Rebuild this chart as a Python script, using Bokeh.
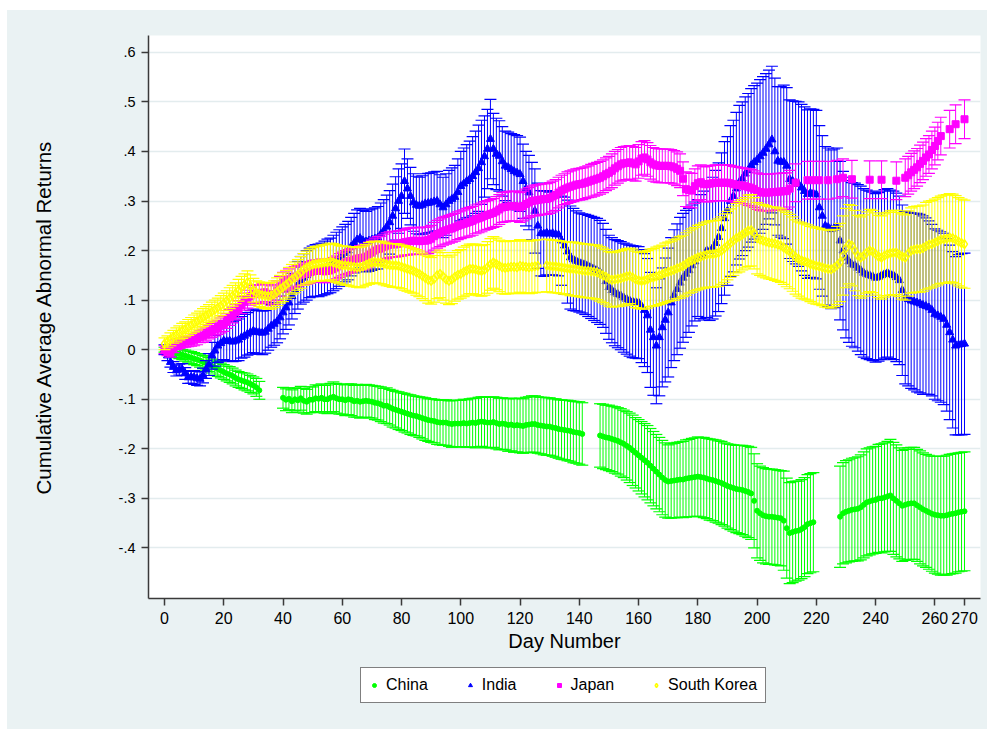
from bokeh.plotting import figure
from bokeh.models import ColumnDataSource, Range1d, FixedTicker, Legend, LegendItem, Spacer
from bokeh.layouts import column, row
from bokeh.embed import file_html
from bokeh.resources import INLINE

N = None
days = list(range(271))

china_mean = [
 0.000,-0.002,-0.004,-0.005,-0.007,-0.008,-0.010,-0.012,-0.014,-0.016,
 -0.018,-0.020,-0.022,-0.025,-0.027,-0.030,-0.033,-0.036,-0.039,-0.042,
 -0.045,-0.048,-0.050,-0.053,-0.057,-0.060,-0.062,-0.064,-0.066,-0.069,
 -0.072,-0.076,-0.082,N,N,N,N,N,N,N,
 -0.097,-0.101,-0.099,-0.104,-0.100,-0.102,-0.098,-0.103,-0.105,-0.101,
 -0.101,-0.098,-0.099,-0.097,-0.100,-0.100,-0.097,-0.095,-0.098,-0.100,
 -0.100,-0.102,-0.100,-0.101,-0.104,-0.103,-0.105,-0.104,-0.103,-0.104,
 -0.105,-0.107,-0.108,-0.110,-0.113,-0.113,-0.116,-0.119,-0.121,-0.123,
 -0.125,-0.127,-0.129,-0.131,-0.133,-0.134,-0.136,-0.138,-0.140,-0.142,
 -0.143,-0.144,-0.146,-0.147,-0.147,-0.147,-0.149,-0.150,-0.149,-0.149,
 -0.149,-0.148,-0.149,-0.148,-0.147,-0.148,-0.146,-0.145,-0.146,-0.147,
 -0.147,-0.146,-0.148,-0.150,-0.149,-0.150,-0.152,-0.151,-0.153,-0.152,
 -0.153,-0.154,-0.152,-0.151,-0.150,-0.150,-0.152,-0.153,-0.154,-0.155,
 -0.155,-0.157,-0.158,-0.160,-0.161,-0.162,-0.163,-0.164,-0.166,-0.167,
 -0.168,-0.170,N,N,N,N,N,-0.173,-0.175,-0.177,
 -0.178,-0.180,-0.182,-0.184,-0.187,-0.190,-0.194,-0.198,-0.203,-0.208,
 -0.213,-0.218,-0.223,-0.228,-0.234,-0.240,-0.246,-0.252,-0.258,-0.263,
 -0.266,-0.265,-0.264,-0.263,-0.262,-0.262,-0.260,-0.259,-0.258,-0.257,
 -0.256,-0.257,-0.258,-0.260,-0.262,-0.263,-0.265,-0.267,-0.269,-0.272,
 -0.275,-0.277,-0.279,-0.281,-0.282,-0.283,-0.285,-0.287,-0.290,-0.305,
 -0.325,-0.330,-0.334,-0.336,-0.337,-0.337,-0.338,-0.339,-0.340,-0.345,
 -0.360,-0.370,-0.368,-0.366,-0.365,-0.362,-0.358,-0.352,-0.350,-0.348,
 N,N,N,N,N,N,N,N,-0.337,-0.330,
 -0.327,-0.325,-0.323,-0.322,-0.321,-0.318,-0.313,-0.308,-0.306,-0.304,
 -0.303,-0.300,-0.300,-0.298,-0.296,-0.294,-0.300,-0.305,-0.310,-0.315,
 -0.313,-0.311,-0.310,-0.310,-0.314,-0.318,-0.322,-0.325,-0.328,-0.331,
 -0.333,-0.334,-0.335,-0.335,-0.334,-0.332,-0.331,-0.330,-0.328,-0.327,-0.326]

china_hw = [
 0.005,0.006,0.007,0.008,0.009,0.010,0.010,0.011,0.011,0.012,
 0.012,0.012,0.013,0.013,0.014,0.014,0.014,0.015,0.015,0.015,
 0.015,0.015,0.016,0.016,0.016,0.016,0.016,0.017,0.017,0.017,
 0.017,0.018,0.018,N,N,N,N,N,N,N,
 0.021,0.022,0.022,0.023,0.023,0.024,0.024,0.025,0.025,0.026,
 0.026,0.027,0.027,0.028,0.028,0.029,0.029,0.030,0.030,0.030,
 0.030,0.031,0.031,0.032,0.032,0.033,0.033,0.033,0.033,0.033,
 0.033,0.034,0.034,0.035,0.035,0.036,0.036,0.037,0.037,0.038,
 0.038,0.039,0.039,0.040,0.040,0.040,0.041,0.042,0.043,0.043,
 0.044,0.044,0.045,0.045,0.046,0.046,0.046,0.047,0.047,0.047,
 0.047,0.048,0.048,0.049,0.049,0.050,0.050,0.050,0.051,0.051,
 0.051,0.051,0.052,0.052,0.052,0.052,0.053,0.053,0.054,0.054,
 0.055,0.055,0.056,0.056,0.057,0.057,0.057,0.057,0.058,0.058,
 0.058,0.058,0.059,0.059,0.060,0.060,0.061,0.061,0.062,0.062,
 0.063,0.063,N,N,N,N,N,0.064,0.065,0.065,
 0.066,0.066,0.067,0.067,0.068,0.068,0.069,0.070,0.071,0.071,
 0.072,0.073,0.074,0.075,0.075,0.075,0.075,0.075,0.075,0.075,
 0.074,0.075,0.075,0.076,0.076,0.077,0.078,0.078,0.079,0.079,
 0.080,0.080,0.081,0.081,0.082,0.082,0.083,0.083,0.084,0.084,
 0.085,0.086,0.087,0.088,0.089,0.090,0.091,0.092,0.093,0.095,
 0.095,0.095,0.096,0.096,0.096,0.096,0.096,0.096,0.096,0.100,
 0.101,0.102,0.102,0.101,0.100,0.100,0.100,0.100,0.100,0.100,
 N,N,N,N,N,N,N,N,0.102,0.102,
 0.103,0.103,0.104,0.104,0.105,0.106,0.107,0.108,0.108,0.108,
 0.108,0.109,0.110,0.110,0.111,0.113,0.113,0.113,0.112,0.112,
 0.112,0.113,0.113,0.113,0.113,0.114,0.114,0.114,0.115,0.116,
 0.118,0.119,0.120,0.120,0.121,0.121,0.121,0.121,0.120,0.120,0.120]

india_mean = [
 0.000,-0.012,-0.025,-0.035,-0.042,-0.040,-0.040,-0.048,-0.056,-0.055,
 -0.056,-0.058,-0.059,-0.052,-0.040,-0.030,-0.012,-0.002,0.008,0.013,
 0.018,0.017,0.018,0.016,0.018,0.020,0.025,0.028,0.032,0.035,
 0.038,0.036,0.035,0.034,0.036,0.042,0.048,0.052,0.057,0.065,
 0.075,0.085,0.095,0.108,0.120,0.130,0.140,0.145,0.150,0.155,
 0.158,0.160,0.160,0.162,0.165,0.168,0.170,0.175,0.180,0.185,
 0.190,0.195,0.200,0.208,0.215,0.222,0.225,0.220,0.218,0.220,
 0.222,0.224,0.226,0.233,0.240,0.248,0.257,0.270,0.285,0.300,
 0.310,0.340,0.325,0.310,0.297,0.292,0.290,0.292,0.295,0.296,
 0.297,0.299,0.300,0.293,0.287,0.293,0.300,0.304,0.308,0.318,
 0.330,0.335,0.340,0.344,0.350,0.358,0.366,0.378,0.390,0.405,
 0.425,0.405,0.395,0.391,0.380,0.371,0.368,0.364,0.360,0.357,
 0.354,0.340,0.325,0.317,0.300,0.280,0.250,0.235,0.234,0.236,
 0.234,0.235,0.233,0.232,0.220,0.210,0.198,0.186,0.182,0.179,
 0.176,0.174,0.172,0.169,0.166,0.163,0.160,0.156,0.150,0.138,
 0.126,0.120,0.115,0.112,0.109,0.105,0.102,0.099,0.097,0.096,
 0.095,0.088,0.080,0.069,0.040,0.025,0.008,0.025,0.045,0.060,
 0.075,0.095,0.110,0.122,0.135,0.145,0.153,0.160,0.170,0.178,
 0.185,0.188,0.190,0.200,0.199,0.205,0.215,0.227,0.245,0.265,
 0.280,0.300,0.310,0.325,0.338,0.345,0.355,0.362,0.372,0.378,
 0.383,0.390,0.397,0.405,0.414,0.424,0.400,0.381,0.379,0.379,
 0.371,0.344,0.340,0.337,0.334,0.327,0.320,0.314,0.316,0.315,
 0.313,0.287,0.270,0.250,0.247,0.243,0.245,0.247,0.220,0.200,
 0.186,0.178,0.172,0.170,0.165,0.160,0.155,0.152,0.150,0.148,
 0.145,0.147,0.150,0.153,0.155,0.152,0.150,0.146,0.140,0.120,
 0.105,0.102,0.099,0.097,0.095,0.093,0.090,0.088,0.085,0.080,
 0.072,0.069,0.066,0.062,0.050,0.035,0.020,0.008,0.010,0.011,0.012]

india_hw = [
 0.010,0.010,0.010,0.011,0.011,0.011,0.012,0.012,0.012,0.013,
 0.014,0.014,0.014,0.015,0.018,0.022,0.027,0.031,0.034,0.036,
 0.038,0.039,0.040,0.040,0.041,0.042,0.042,0.043,0.043,0.044,
 0.044,0.044,0.044,0.044,0.043,0.043,0.043,0.043,0.043,0.043,
 0.043,0.044,0.045,0.046,0.047,0.048,0.048,0.049,0.050,0.050,
 0.051,0.052,0.053,0.053,0.054,0.055,0.055,0.056,0.057,0.057,
 0.058,0.058,0.059,0.059,0.060,0.060,0.060,0.061,0.061,0.062,
 0.062,0.062,0.063,0.063,0.063,0.064,0.064,0.064,0.064,0.065,
 0.065,0.065,0.060,0.058,0.058,0.058,0.058,0.059,0.060,0.060,
 0.060,0.060,0.060,0.060,0.061,0.062,0.062,0.063,0.064,0.067,
 0.070,0.072,0.074,0.077,0.080,0.083,0.087,0.085,0.082,0.080,
 0.080,0.072,0.072,0.071,0.070,0.070,0.071,0.072,0.074,0.075,
 0.075,0.075,0.075,0.075,0.078,0.085,0.086,0.086,0.086,0.085,
 0.084,0.084,0.083,0.083,0.090,0.098,0.104,0.104,0.103,0.101,
 0.100,0.100,0.101,0.102,0.103,0.104,0.105,0.105,0.105,0.105,
 0.105,0.106,0.107,0.108,0.109,0.110,0.111,0.112,0.113,0.113,
 0.113,0.114,0.114,0.115,0.116,0.117,0.117,0.118,0.120,0.125,
 0.130,0.131,0.132,0.132,0.132,0.130,0.128,0.125,0.122,0.120,
 0.118,0.125,0.130,0.135,0.140,0.143,0.147,0.150,0.152,0.155,
 0.150,0.152,0.153,0.154,0.155,0.155,0.155,0.155,0.155,0.155,
 0.155,0.155,0.154,0.152,0.150,0.148,0.148,0.150,0.152,0.155,
 0.158,0.160,0.162,0.164,0.166,0.168,0.170,0.170,0.170,0.170,
 0.170,0.165,0.162,0.160,0.160,0.160,0.160,0.160,0.160,0.160,
 0.162,0.163,0.165,0.166,0.168,0.170,0.170,0.170,0.170,0.170,
 0.170,0.170,0.170,0.170,0.170,0.170,0.170,0.170,0.170,0.172,
 0.174,0.175,0.177,0.178,0.180,0.180,0.180,0.178,0.175,0.173,
 0.172,0.172,0.172,0.173,0.174,0.176,0.178,0.180,0.182,0.183,0.183]

japan_mean = [
 0.000,-0.004,-0.006,0.003,0.010,0.012,0.014,0.016,0.017,0.018,
 0.020,0.022,0.026,0.028,0.031,0.035,0.039,0.042,0.045,0.049,
 0.052,0.058,0.065,0.070,0.076,0.082,0.090,0.097,0.102,0.108,
 0.112,0.113,0.112,0.115,0.116,0.112,0.109,0.112,0.119,0.128,
 0.136,0.139,0.142,0.145,0.147,0.149,0.151,0.153,0.154,0.156,
 0.158,0.159,0.159,0.160,0.158,0.159,0.160,0.163,0.166,0.170,
 0.173,0.176,0.178,0.180,0.182,0.184,0.185,0.186,0.188,0.192,
 0.196,0.200,0.203,0.204,0.207,0.210,0.212,0.213,0.213,0.214,
 0.215,0.217,0.218,0.219,0.220,0.220,0.219,0.220,0.220,0.221,
 0.224,0.229,0.233,0.236,0.239,0.241,0.243,0.245,0.247,0.250,
 0.252,0.254,0.256,0.258,0.260,0.263,0.265,0.267,0.270,0.272,
 0.274,0.276,0.279,0.283,0.287,0.288,0.289,0.290,0.290,0.289,
 0.287,0.290,0.294,0.297,0.300,0.301,0.302,0.303,0.304,0.304,
 0.306,0.309,0.312,0.317,0.321,0.324,0.327,0.329,0.331,0.333,
 0.334,0.335,0.337,0.339,0.341,0.343,0.345,0.347,0.350,0.354,
 0.357,0.361,0.366,0.370,0.374,0.376,0.377,0.378,0.376,0.374,
 0.380,0.386,0.388,0.384,0.378,0.374,0.372,0.371,0.371,0.371,
 0.371,0.370,0.368,0.365,0.361,0.345,0.324,0.322,0.321,0.330,
 0.336,0.338,0.334,0.334,0.335,0.336,0.337,0.337,0.337,0.337,
 0.337,0.336,0.334,0.333,0.332,0.331,0.330,0.328,0.327,0.324,
 0.320,0.318,0.317,0.317,0.317,0.318,0.318,0.319,0.319,0.320,
 0.320,0.325,N,0.337,N,N,N,0.342,N,0.342,
 N,0.342,N,N,0.342,N,N,0.344,N,0.347,
 N,N,0.344,N,N,N,N,N,0.343,N,
 N,N,0.343,N,N,N,N,0.341,N,N,
 0.347,0.352,0.358,0.363,0.368,0.375,0.381,0.388,0.394,0.403,
 0.411,0.421,0.431,N,N,0.445,N,0.455,N,N,0.465]

japan_hw = [
 0.008,0.008,0.009,0.009,0.010,0.010,0.010,0.011,0.011,0.011,
 0.012,0.012,0.012,0.013,0.013,0.013,0.014,0.014,0.014,0.015,
 0.015,0.015,0.016,0.016,0.016,0.017,0.017,0.017,0.018,0.018,
 0.018,0.018,0.019,0.019,0.019,0.019,0.020,0.020,0.020,0.020,
 0.020,0.020,0.021,0.021,0.021,0.021,0.021,0.022,0.022,0.022,
 0.022,0.022,0.022,0.023,0.023,0.023,0.023,0.023,0.023,0.024,
 0.024,0.024,0.024,0.024,0.024,0.024,0.025,0.025,0.025,0.025,
 0.025,0.025,0.025,0.025,0.026,0.026,0.026,0.026,0.026,0.026,
 0.026,0.026,0.027,0.027,0.027,0.027,0.027,0.027,0.027,0.027,
 0.027,0.028,0.028,0.028,0.028,0.028,0.028,0.028,0.028,0.028,
 0.028,0.028,0.029,0.029,0.029,0.029,0.029,0.029,0.029,0.029,
 0.029,0.029,0.030,0.030,0.030,0.030,0.030,0.030,0.030,0.030,
 0.030,0.030,0.030,0.030,0.030,0.031,0.031,0.031,0.031,0.031,
 0.031,0.031,0.031,0.031,0.031,0.031,0.032,0.032,0.032,0.032,
 0.032,0.032,0.032,0.032,0.033,0.033,0.033,0.033,0.033,0.033,
 0.033,0.034,0.034,0.034,0.034,0.034,0.034,0.034,0.034,0.034,
 0.034,0.034,0.034,0.034,0.034,0.034,0.034,0.034,0.034,0.034,
 0.034,0.034,0.034,0.034,0.034,0.034,0.035,0.035,0.035,0.035,
 0.035,0.035,0.035,0.036,0.036,0.036,0.036,0.036,0.036,0.036,
 0.036,0.036,0.036,0.036,0.036,0.036,0.036,0.037,0.037,0.037,
 0.037,0.037,0.037,0.037,0.037,0.037,0.037,0.037,0.037,0.037,
 0.037,0.037,N,0.038,N,N,N,0.038,N,0.038,
 N,0.038,N,N,0.038,N,N,0.038,N,0.038,
 N,N,0.038,N,N,N,N,N,0.038,N,
 N,N,0.038,N,N,N,N,0.038,N,N,
 0.038,0.038,0.038,0.038,0.038,0.038,0.038,0.038,0.038,0.038,
 0.038,0.038,0.038,N,N,0.038,N,0.039,N,N,0.039]

korea_mean = [
 0.012,0.016,0.021,0.026,0.030,0.034,0.038,0.041,0.045,0.049,
 0.053,0.057,0.061,0.065,0.069,0.073,0.077,0.081,0.085,0.089,
 0.094,0.099,0.104,0.109,0.114,0.120,0.126,0.131,0.136,0.128,
 0.120,0.115,0.112,0.110,0.109,0.108,0.109,0.112,0.117,0.122,
 0.126,0.131,0.136,0.142,0.146,0.151,0.156,0.162,0.166,0.169,
 0.172,0.173,0.174,0.175,0.176,0.176,0.178,0.176,0.174,0.172,
 0.170,0.170,0.169,0.168,0.167,0.166,0.166,0.168,0.171,0.174,
 0.176,0.177,0.176,0.176,0.174,0.172,0.171,0.170,0.170,0.169,
 0.167,0.165,0.163,0.161,0.159,0.156,0.153,0.149,0.145,0.141,
 0.139,0.143,0.150,0.153,0.148,0.142,0.139,0.142,0.147,0.151,
 0.153,0.157,0.160,0.163,0.163,0.162,0.160,0.159,0.161,0.166,
 0.172,0.176,0.173,0.169,0.166,0.165,0.166,0.167,0.167,0.166,
 0.169,0.168,0.167,0.166,0.167,0.168,0.169,N,N,0.170,
 0.169,0.168,0.168,0.167,0.166,0.165,0.164,0.163,0.163,0.162,
 0.161,0.160,0.159,0.159,0.158,0.157,0.156,0.153,0.150,0.147,
 0.143,0.141,0.142,0.143,0.144,0.146,0.148,0.149,0.146,0.142,
 0.140,0.139,0.140,0.142,0.145,0.146,0.148,0.150,0.152,0.155,
 0.157,0.159,0.161,0.164,0.166,0.169,0.173,0.177,0.180,0.183,
 0.186,0.188,0.190,0.192,0.193,0.193,0.194,0.196,0.200,0.205,
 0.210,0.215,0.220,0.225,0.228,0.232,0.236,0.240,0.241,0.235,
 0.225,0.222,0.220,0.218,0.216,0.215,0.214,0.212,0.210,0.206,
 0.202,0.198,0.193,0.187,0.183,0.180,0.178,0.176,0.173,0.171,
 0.169,0.168,0.166,0.164,0.163,0.162,0.165,0.170,0.176,0.190,
 0.205,0.213,0.210,0.200,0.190,0.186,0.190,0.196,0.200,0.198,
 0.193,0.188,0.186,0.190,0.193,0.195,0.196,0.196,0.192,0.188,
 0.186,0.194,0.200,0.202,0.203,0.203,0.205,0.209,0.212,0.213,
 0.216,0.219,0.222,0.223,0.224,0.226,0.225,0.222,0.218,0.215,0.213]

korea_hw = [
 0.012,0.012,0.013,0.013,0.014,0.014,0.015,0.015,0.016,0.016,
 0.017,0.017,0.017,0.018,0.018,0.018,0.019,0.019,0.019,0.020,
 0.020,0.020,0.021,0.021,0.021,0.022,0.022,0.022,0.023,0.023,
 0.024,0.024,0.025,0.025,0.026,0.026,0.027,0.027,0.028,0.028,
 0.029,0.029,0.030,0.030,0.031,0.031,0.032,0.032,0.033,0.034,
 0.034,0.035,0.035,0.036,0.036,0.037,0.037,0.038,0.038,0.038,
 0.039,0.039,0.039,0.040,0.040,0.040,0.041,0.041,0.041,0.042,
 0.042,0.042,0.042,0.043,0.043,0.043,0.043,0.044,0.044,0.044,
 0.044,0.045,0.045,0.045,0.045,0.046,0.046,0.046,0.046,0.047,
 0.047,0.047,0.047,0.048,0.048,0.048,0.048,0.049,0.049,0.049,
 0.049,0.050,0.050,0.050,0.050,0.051,0.051,0.051,0.051,0.052,
 0.052,0.052,0.052,0.052,0.053,0.053,0.053,0.053,0.053,0.053,
 0.053,0.053,0.053,0.053,0.053,0.053,0.053,N,N,0.053,
 0.053,0.053,0.053,0.053,0.053,0.053,0.053,0.054,0.054,0.054,
 0.054,0.054,0.054,0.054,0.054,0.054,0.055,0.055,0.055,0.055,
 0.055,0.055,0.055,0.056,0.056,0.056,0.056,0.056,0.057,0.057,
 0.057,0.057,0.058,0.058,0.058,0.058,0.059,0.059,0.059,0.060,
 0.060,0.060,0.061,0.061,0.062,0.062,0.063,0.063,0.064,0.064,
 0.065,0.065,0.066,0.066,0.067,0.067,0.067,0.068,0.068,0.069,
 0.069,0.069,0.070,0.070,0.071,0.071,0.071,0.072,0.072,0.072,
 0.072,0.072,0.073,0.073,0.073,0.073,0.074,0.074,0.074,0.074,
 0.075,0.075,0.075,0.075,0.075,0.076,0.076,0.076,0.076,0.077,
 0.077,0.077,0.077,0.078,0.078,0.078,0.078,0.079,0.079,0.080,
 0.080,0.080,0.081,0.081,0.081,0.082,0.082,0.082,0.083,0.083,
 0.083,0.083,0.084,0.084,0.084,0.085,0.085,0.085,0.085,0.086,
 0.086,0.086,0.086,0.087,0.087,0.087,0.087,0.088,0.088,0.088,
 0.088,0.088,0.088,0.089,0.089,0.089,0.089,0.089,0.089,0.089,0.089]

countries = ["China", "India", "Japan", "South Korea"]
y_ticks = [-0.4, -0.3, -0.2, -0.1, 0, 0.1, 0.2, 0.3, 0.4, 0.5, 0.6]
y_tick_labels = ["-.4", "-.3", "-.2", "-.1", "0", ".1", ".2", ".3", ".4", ".5", ".6"]
x_ticks = [0, 20, 40, 60, 80, 100, 120, 140, 160, 180, 200, 220, 240, 260, 270]

FONT = "Liberation Sans"
BG = "#EAF2F3"
colors = ["#00FF00", "#0000FF", "#FF00FF", "#FFFF00"]
markers = ["circle", "triangle", "square", "diamond"]
sizes = [5, 8, 7, 9]
filled = [True, True, True, False]

p = figure(width=980, height=650, output_backend="svg", toolbar_location=None,
           x_range=Range1d(-5.4, 275.4), y_range=Range1d(-0.502, 0.634),
           min_border_left=141, min_border_right=7, min_border_top=25,
           min_border_bottom=62)
p.background_fill_color = "white"
p.border_fill_color = BG
p.outline_line_color = None
p.xgrid.visible = False
p.ygrid.grid_line_color = "#E3ECEE"
p.ygrid.grid_line_width = 1.6

p.yaxis.ticker = FixedTicker(ticks=y_ticks)
p.yaxis.major_label_overrides = {t: l for t, l in zip(y_ticks, y_tick_labels)}
p.xaxis.ticker = FixedTicker(ticks=x_ticks)
for ax in (p.xaxis[0], p.yaxis[0]):
    ax.axis_line_color = "#3a3a3a"
    ax.axis_line_width = 1.5
    ax.major_tick_line_color = "#3a3a3a"
    ax.major_tick_line_width = 1.5
    ax.major_tick_out = 7
    ax.major_tick_in = 0
    ax.minor_tick_line_color = None
    ax.major_label_text_font = FONT
    ax.major_label_text_color = "black"
    ax.axis_label_text_font = FONT
    ax.axis_label_text_font_style = "normal"
    ax.axis_label_text_color = "black"
p.yaxis.major_label_orientation = "horizontal"
p.yaxis.major_label_text_font_size = "14.5px"
p.xaxis.major_label_text_font_size = "16px"
p.yaxis.major_label_standoff = 6
p.xaxis.major_label_standoff = 6
p.yaxis.axis_label = "Cumulative Average Abnormal Returns"
p.xaxis.axis_label = "Day Number"
p.yaxis.axis_label_text_font_size = "20.5px"
p.xaxis.axis_label_text_font_size = "20px"
p.yaxis.axis_label_standoff = 61
p.xaxis.axis_label_standoff = 3


def add_series(mean, hw, color, marker, size, is_filled=True):
    xs, ms, lo, hi = [], [], [], []
    for d, m, h in zip(days, mean, hw):
        if m is None or h is None:
            continue
        xs.append(d)
        ms.append(m)
        lo.append(m - h)
        hi.append(m + h)
    src = ColumnDataSource(dict(x=xs, m=ms, lo=lo, hi=hi))
    p.segment(x0="x", y0="lo", x1="x", y1="hi", source=src, line_color=color, line_width=1)
    p.scatter(x="x", y="lo", marker="dash", size=12, line_color=color, line_width=1.2, source=src)
    p.scatter(x="x", y="hi", marker="dash", size=12, line_color=color, line_width=1.2, source=src)
    p.scatter(x="x", y="m", marker=marker, size=size, source=src,
              fill_color=color if is_filled else None, line_color=color,
              line_width=1 if is_filled else 1.5)
    return src


series = [(china_mean, china_hw), (india_mean, india_hw),
          (japan_mean, japan_hw), (korea_mean, korea_hw)]
sources = []
for (mean, hw), c, mk, sz, fl in zip(series, colors, markers, sizes, filled):
    sources.append(add_series(mean, hw, c, mk, sz, fl))

# legend strip under the chart (Stata-style boxed legend)
pl = figure(width=980, height=69, output_backend="svg", toolbar_location=None,
            x_range=Range1d(1000, 1001), y_range=Range1d(1000, 1001),
            min_border_left=141, min_border_right=7, min_border_top=0,
            min_border_bottom=0)
pl.axis.visible = False
pl.grid.visible = False
pl.outline_line_color = None
pl.background_fill_alpha = 0
pl.border_fill_alpha = 0
items = []
for src, c, mk, sz, fl, name in zip(sources, colors, markers, sizes, filled, countries):
    r = pl.scatter(x="x", y="m", source=src, marker=mk, size=sz + 1,
                   fill_color=c if fl else None, line_color=c,
                   line_width=1 if fl else 1.5)
    items.append(LegendItem(label=name, renderers=[r]))
legend = Legend(items=items, orientation="horizontal", location=(212, 26))
legend.background_fill_color = "white"
legend.background_fill_alpha = 1
legend.border_line_color = "black"
legend.border_line_width = 1
legend.label_text_font = FONT
legend.label_text_font_size = "16px"
legend.label_text_color = "black"
legend.label_height = 16
legend.glyph_width = 10
legend.glyph_height = 16
legend.label_standoff = 7
legend.spacing = 37
legend.padding = 8
legend.margin = 0
pl.add_layout(legend, "center")

inner = column(p, pl, styles={"background-color": BG})
layout = column(Spacer(height=10), row(Spacer(width=7), inner))
open("out.html", "w").write(file_html(layout, INLINE, title="Cumulative Average Abnormal Returns"))
